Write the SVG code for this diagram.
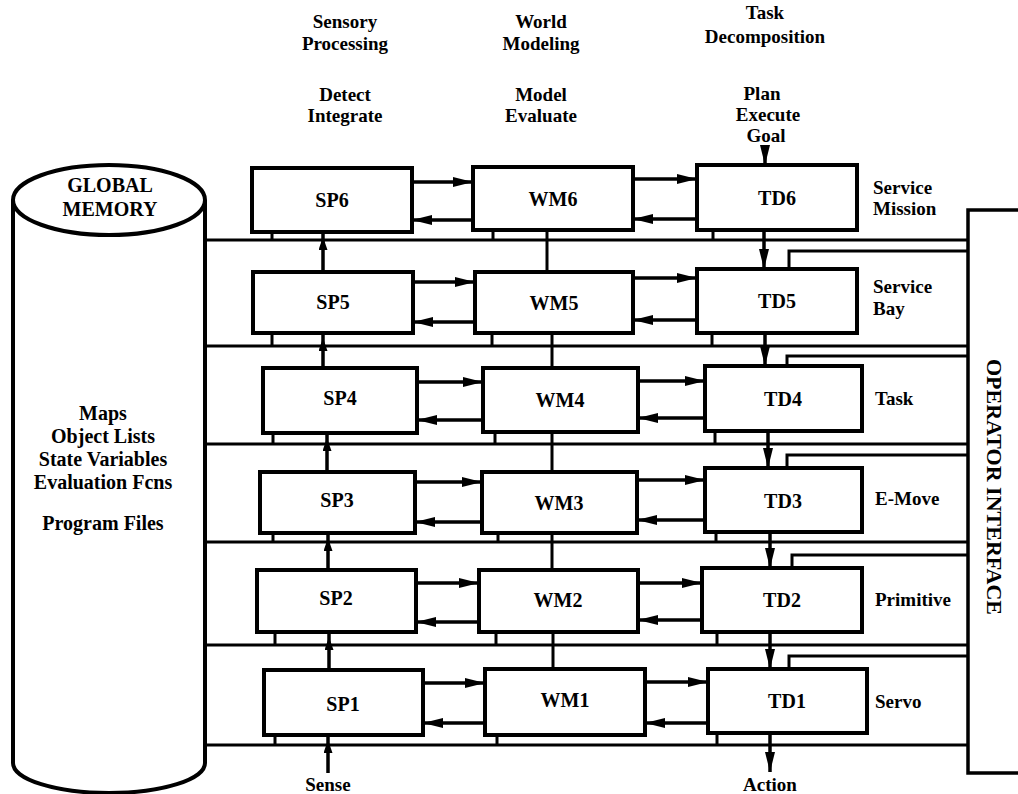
<svg xmlns="http://www.w3.org/2000/svg" width="1018" height="794" viewBox="0 0 1018 794">
<style>
.box{fill:#fff;stroke:#000;stroke-width:4}
.ln{stroke:#000;stroke-width:3;fill:none}
.th{stroke:#000;stroke-width:3.5;fill:none}
text{font-family:"Liberation Serif","Times New Roman",serif;font-weight:bold;fill:#000}
.lb{font-size:20px;text-anchor:middle}
.hd{font-size:19px;text-anchor:middle}
.rt{font-size:19px}
</style>
<defs>
<marker id="ah" markerUnits="userSpaceOnUse" markerWidth="20" markerHeight="10" refX="20" refY="5" orient="auto"><path d="M0,0 L20,5 L0,10 z" fill="#000"/></marker>
<marker id="ahs" markerUnits="userSpaceOnUse" markerWidth="20" markerHeight="10" refX="18" refY="4.5" orient="auto"><path d="M0,0 L13,4.5 L0,9 z" fill="#000"/></marker>
</defs>
<rect width="1018" height="794" fill="#fff"/>

<g id="global-memory">
<path d="M13,200 L13,763 A96,30 0 0 0 205,763 L205,200" class="box"/>
<ellipse cx="109" cy="200" rx="96" ry="35" class="box"/>
<text class="lb" x="110" y="192">GLOBAL</text>
<text class="lb" x="110" y="216">MEMORY</text>
<text class="lb" x="103" y="420">Maps</text>
<text class="lb" x="103" y="443">Object Lists</text>
<text class="lb" x="103" y="466">State Variables</text>
<text class="lb" x="103" y="489">Evaluation Fcns</text>
<text class="lb" x="103" y="530">Program Files</text>
</g>

<g id="headers">
<text class="hd" x="345" y="28">Sensory</text>
<text class="hd" x="345" y="50">Processing</text>
<text class="hd" x="345" y="101">Detect</text>
<text class="hd" x="345" y="122">Integrate</text>
<text class="hd" x="541" y="28">World</text>
<text class="hd" x="541" y="50">Modeling</text>
<text class="hd" x="541" y="101">Model</text>
<text class="hd" x="541" y="122">Evaluate</text>
<text class="hd" x="765" y="19">Task</text>
<text class="hd" x="765" y="43">Decomposition</text>
<text class="hd" x="762" y="100">Plan</text>
<text class="hd" x="768" y="121">Execute</text>
<text class="hd" x="766" y="142">Goal</text>
</g>

<g id="level-labels">
<text class="rt" x="873" y="194">Service</text>
<text class="rt" x="873" y="215">Mission</text>
<text class="rt" x="873" y="293">Service</text>
<text class="rt" x="873" y="315">Bay</text>
<text class="rt" x="875" y="405">Task</text>
<text class="rt" x="875" y="505">E-Move</text>
<text class="rt" x="875" y="606">Primitive</text>
<text class="rt" x="875" y="708">Servo</text>
</g>

<g id="operator-interface">
<path d="M1018,210 L968,210 L968,773 L1018,773" class="th"/>
<text transform="translate(987,487) rotate(90)" font-size="22" text-anchor="middle">OPERATOR INTERFACE</text>
</g>

<g id="connectors">
<path class="ln" d="M205,240 H968 M205,346 H968 M205,444 H968 M205,542 H968 M205,645 H968 M205,745 H968"/>
<path class="ln" d="M272,232 V240 M493,230 V240 M713,230 V240
M272,333 V346 M492,333 V346 M712,333 V346
M273,433 V444 M495,432 V444 M715,431 V444
M273,533 V542 M498,533 V542 M716,532 V542
M275,632 V645 M496,632 V645 M717,632 V645
M275,735 V745 M497,735 V745 M717,733 V745"/>
<path class="ln" d="M547,230 V272 M552,333 V368 M552,432 V472 M552,533 V570 M553,632 V669"/>
<path class="ln" d="M789,269 V251 H968 M787,366 V356 H968 M787,468 V455 H968 M792,568 V555 H968 M789,669 V656 H968"/>
<path class="th" marker-end="url(#ahs)" d="M323,272 V232"/>
<path class="th" marker-end="url(#ahs)" d="M323,368 V333"/>
<path class="th" marker-end="url(#ahs)" d="M327,472 V433"/>
<path class="th" marker-end="url(#ahs)" d="M328,570 V533"/>
<path class="th" marker-end="url(#ahs)" d="M329,670 V632"/>
<path class="th" marker-end="url(#ahs)" d="M328,773 V735"/>
<path class="th" marker-end="url(#ah)" d="M765,147 V165"/>
<path class="th" marker-end="url(#ah)" d="M764,230 V269"/>
<path class="th" marker-end="url(#ah)" d="M765,333 V366"/>
<path class="th" marker-end="url(#ah)" d="M768,431 V468"/>
<path class="th" marker-end="url(#ah)" d="M770,532 V568"/>
<path class="th" marker-end="url(#ah)" d="M770,632 V669"/>
<path class="th" marker-end="url(#ah)" d="M770,733 V772"/>
<g class="th">
<path marker-end="url(#ah)" d="M412,182 H473"/><path marker-end="url(#ah)" d="M473,220 H412"/>
<path marker-end="url(#ah)" d="M633,179 H697"/><path marker-end="url(#ah)" d="M697,219 H633"/>
<path marker-end="url(#ah)" d="M413,282 H475"/><path marker-end="url(#ah)" d="M475,322 H413"/>
<path marker-end="url(#ah)" d="M633,278 H697"/><path marker-end="url(#ah)" d="M697,320 H633"/>
<path marker-end="url(#ah)" d="M417,382 H483"/><path marker-end="url(#ah)" d="M483,420 H417"/>
<path marker-end="url(#ah)" d="M638,381 H705"/><path marker-end="url(#ah)" d="M705,418 H638"/>
<path marker-end="url(#ah)" d="M415,482 H482"/><path marker-end="url(#ah)" d="M482,522 H415"/>
<path marker-end="url(#ah)" d="M637,480 H705"/><path marker-end="url(#ah)" d="M705,520 H637"/>
<path marker-end="url(#ah)" d="M416,583 H479"/><path marker-end="url(#ah)" d="M479,622 H416"/>
<path marker-end="url(#ah)" d="M638,583 H702"/><path marker-end="url(#ah)" d="M702,620 H638"/>
<path marker-end="url(#ah)" d="M423,683 H485"/><path marker-end="url(#ah)" d="M485,723 H423"/>
<path marker-end="url(#ah)" d="M645,682 H708"/><path marker-end="url(#ah)" d="M708,723 H645"/>
</g>
</g>

<g id="io-labels">
<text class="hd" x="328" y="791">Sense</text>
<text class="hd" x="770" y="791">Action</text>
</g>

<g id="SP6"><rect class="box" x="252" y="168" width="160" height="64"/><text class="lb" x="332" y="207">SP6</text></g>
<g id="WM6"><rect class="box" x="473" y="167" width="160" height="63"/><text class="lb" x="553" y="206">WM6</text></g>
<g id="TD6"><rect class="box" x="697" y="165" width="160" height="65"/><text class="lb" x="777" y="205">TD6</text></g>
<g id="SP5"><rect class="box" x="253" y="272" width="160" height="61"/><text class="lb" x="333" y="309">SP5</text></g>
<g id="WM5"><rect class="box" x="475" y="272" width="158" height="61"/><text class="lb" x="554" y="310">WM5</text></g>
<g id="TD5"><rect class="box" x="697" y="269" width="160" height="64"/><text class="lb" x="777" y="308">TD5</text></g>
<g id="SP4"><rect class="box" x="263" y="368" width="154" height="65"/><text class="lb" x="340" y="405">SP4</text></g>
<g id="WM4"><rect class="box" x="483" y="368" width="155" height="64"/><text class="lb" x="560" y="407">WM4</text></g>
<g id="TD4"><rect class="box" x="705" y="366" width="157" height="65"/><text class="lb" x="783" y="406">TD4</text></g>
<g id="SP3"><rect class="box" x="260" y="472" width="155" height="61"/><text class="lb" x="337" y="507">SP3</text></g>
<g id="WM3"><rect class="box" x="482" y="472" width="155" height="61"/><text class="lb" x="559" y="510">WM3</text></g>
<g id="TD3"><rect class="box" x="705" y="468" width="157" height="64"/><text class="lb" x="783" y="508">TD3</text></g>
<g id="SP2"><rect class="box" x="257" y="570" width="159" height="62"/><text class="lb" x="336" y="605">SP2</text></g>
<g id="WM2"><rect class="box" x="479" y="570" width="159" height="62"/><text class="lb" x="558" y="607">WM2</text></g>
<g id="TD2"><rect class="box" x="702" y="568" width="160" height="64"/><text class="lb" x="782" y="607">TD2</text></g>
<g id="SP1"><rect class="box" x="264" y="670" width="159" height="65"/><text class="lb" x="343" y="711">SP1</text></g>
<g id="WM1"><rect class="box" x="485" y="669" width="160" height="66"/><text class="lb" x="565" y="707">WM1</text></g>
<g id="TD1"><rect class="box" x="708" y="669" width="159" height="64"/><text class="lb" x="787" y="708">TD1</text></g>
</svg>
